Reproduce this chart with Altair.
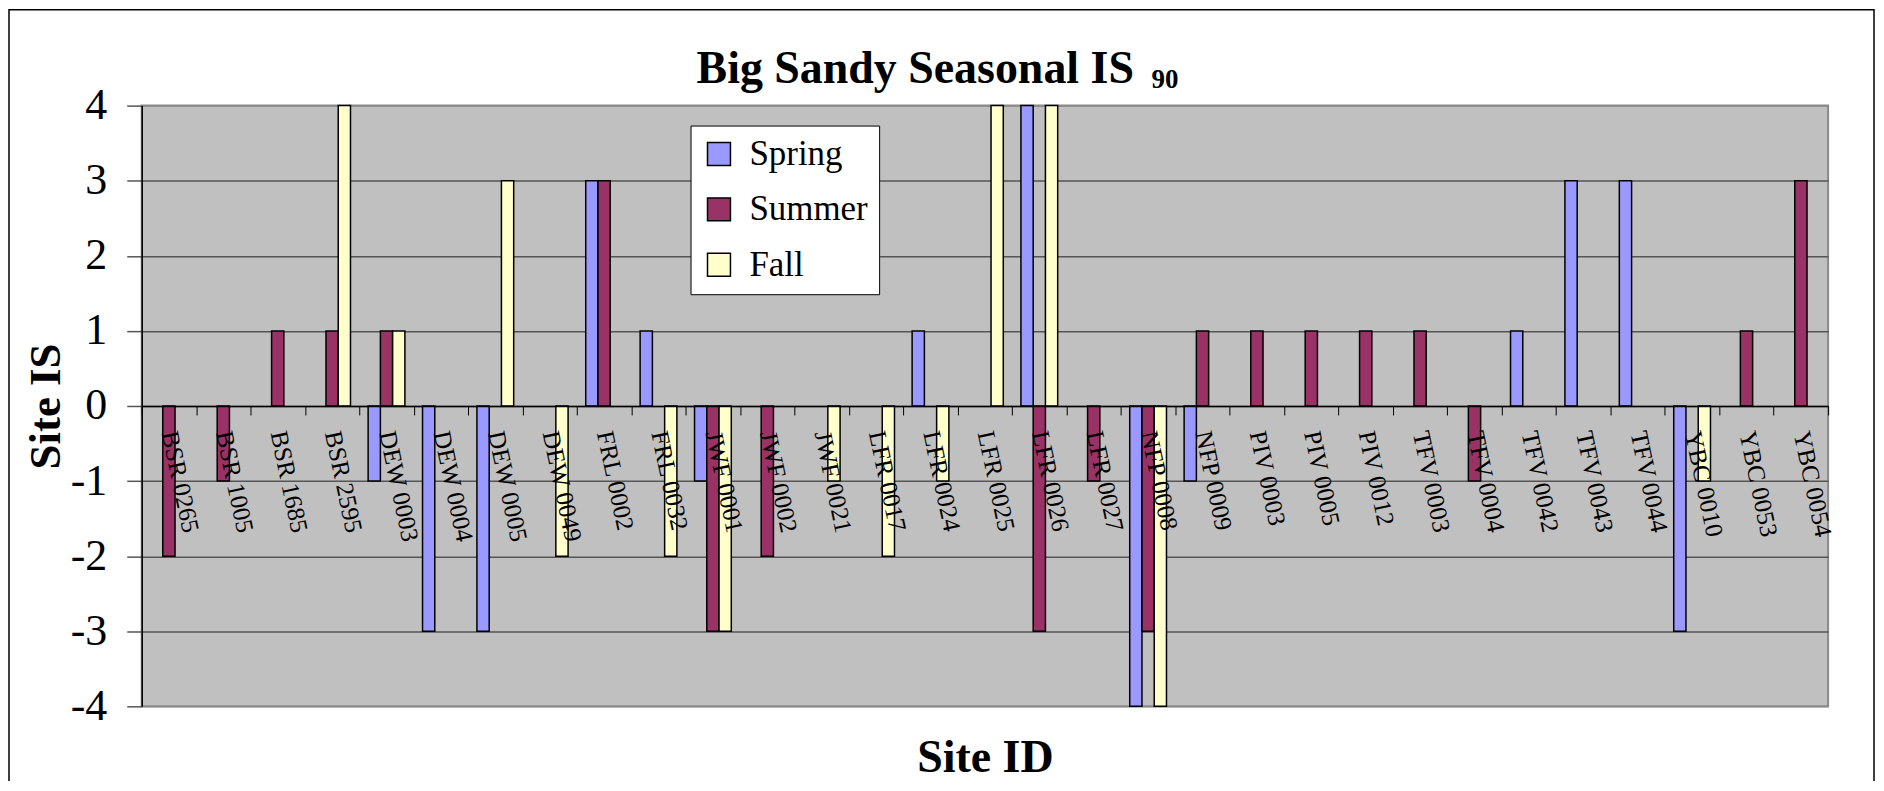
import altair as alt
import pandas as pd

sites = ["BSR 0265", "BSR 1005", "BSR 1685", "BSR 2595", "DEW 0003", "DEW 0004",
         "DEW 0005", "DEW 0049", "FRL 0002", "FRL 0032", "JWF 0001", "JWF 0002",
         "JWF 0021", "LFR 0017", "LFR 0024", "LFR 0025", "LFR 0026", "LFR 0027",
         "NFP 0008", "NFP 0009", "PIV 0003", "PIV 0005", "PIV 0012", "TFV 0003",
         "TFV 0004", "TFV 0042", "TFV 0043", "TFV 0044", "YBC 0010", "YBC 0053",
         "YBC 0054"]
spring = [0, 0, 0, 0, -1, -3, -3, 0, 3, 1, -1, 0, 0, 0, 1, 0, 4, 0, -4, -1,
          0, 0, 0, 0, 0, 1, 3, 3, -3, 0, 0]
summer = [-2, -1, 1, 1, 1, 0, 0, 0, 3, 0, -3, -2, 0, 0, 0, 0, -3, -1, -3, 1,
          1, 1, 1, 1, -1, 0, 0, 0, 0, 1, 3]
fall = [0, 0, 0, 4, 1, 0, 3, -2, 0, -2, -3, 0, -1, -2, -1, 4, 4, 0, -4, 0,
        0, 0, 0, 0, 0, 0, 0, 0, -1, 0, 0]
seasons = ["Spring", "Summer", "Fall"]
colors = ["#9999FF", "#993366", "#FFFFCC"]
y_ticks = [-4, -3, -2, -1, 0, 1, 2, 3, 4]
title_main = "Big Sandy Seasonal IS"
title_sub = "90"
x_title = "Site ID"
y_title = "Site IS"

rows = []
for i, s in enumerate(sites):
    for season, vals in zip(seasons, [spring, summer, fall]):
        if vals[i] != 0:
            rows.append({"Site": s, "Season": season, "IS": vals[i]})
df = pd.DataFrame(rows)

W, H = 1690, 602
PL, PT = 134, 97
SERIF = "Liberation Serif"

bars = alt.Chart(df).mark_bar(stroke="black", strokeWidth=1.5, opacity=1).encode(
    x=alt.X("Site:N", sort=sites,
            scale=alt.Scale(domain=sites, paddingInner=0, paddingOuter=0),
            axis=alt.Axis(orient="bottom", offset=-H / 2, grid=False,
                          title=x_title, titleFont=SERIF, titleFontSize=46,
                          titleFontWeight="bold", titleColor="black",
                          titleX=W / 2, titleY=366, titleBaseline="alphabetic",
                          titleAlign="center",
                          labelAngle=78, labelAlign="left", labelBaseline="middle",
                          labelFont=SERIF, labelFontSize=25, labelColor="black",
                          labelPadding=16, labelOverlap=False, labelLimit=400,
                          tickSize=9, tickColor="black", tickWidth=1,
                          tickBand="extent", domainColor="black", domainWidth=1.5,
                          zindex=1)),
    xOffset=alt.XOffset("Season:N", sort=seasons,
                        scale=alt.Scale(domain=seasons, paddingInner=0, paddingOuter=0.72)),
    y=alt.Y("IS:Q", scale=alt.Scale(domain=[-4, 4], nice=False, zero=False),
            axis=alt.Axis(values=y_ticks, labelExpr="datum.value + ''",
                          labelFont=SERIF, labelFontSize=44, labelColor="black",
                          labelPadding=20, tickSize=15, tickColor="#555555", tickWidth=1.5,
                          domainColor="black", domainWidth=1.5,
                          grid=True,
                          gridColor={"condition": {"test": "abs(datum.value) == 4", "value": "#8a8a8a"},
                                     "value": "#555555"},
                          gridWidth=1.5,
                          title=y_title, titleFont=SERIF, titleFontSize=45,
                          titleFontWeight="bold", titleColor="black", titleAngle=270,
                          titleX=-82, titleY=H / 2, titleBaseline="alphabetic",
                          titleAlign="center", zindex=0)),
    color=alt.Color("Season:N", sort=seasons,
                    scale=alt.Scale(domain=seasons, range=colors),
                    legend=alt.Legend(orient="none", legendX=550, legendY=20, title=None,
                                      fillColor="white", strokeColor="black", padding=11,
                                      symbolType="square", symbolSize=529,
                                      symbolStrokeColor="black", symbolStrokeWidth=1.5,
                                      labelFont=SERIF, labelFontSize=35, labelColor="black",
                                      labelOffset=13, rowPadding=19.5)),
)

frame = alt.Chart(pd.DataFrame({"a": [0]})).mark_rect(
    fillOpacity=0, stroke="black", strokeWidth=1.5
).encode(x=alt.value(-PL + 1), x2=alt.value(1736), y=alt.value(-PT + 1), y2=alt.value(H + 200))

t_main = alt.Chart(pd.DataFrame({"t": [title_main]})).mark_text(
    font=SERIF, fontWeight="bold", fontSize=46, align="left", baseline="alphabetic", color="black"
).encode(x=alt.value(556), y=alt.value(-23), text="t:N")

t_sub = alt.Chart(pd.DataFrame({"t": [title_sub]})).mark_text(
    font=SERIF, fontWeight="bold", fontSize=27, align="left", baseline="alphabetic", color="black"
).encode(x=alt.value(1012), y=alt.value(-18), text="t:N")

chart = alt.layer(frame, bars, t_main, t_sub).properties(
    width=W, height=H,
    autosize=alt.AutoSizeParams(type="none"),
    padding={"left": PL, "top": PT, "right": 48, "bottom": 74},
).configure(background="white").configure_view(fill="#C0C0C0", stroke="#8a8a8a", strokeWidth=2)

chart.save("out.html", embed_options={"renderer": "svg", "actions": False})
